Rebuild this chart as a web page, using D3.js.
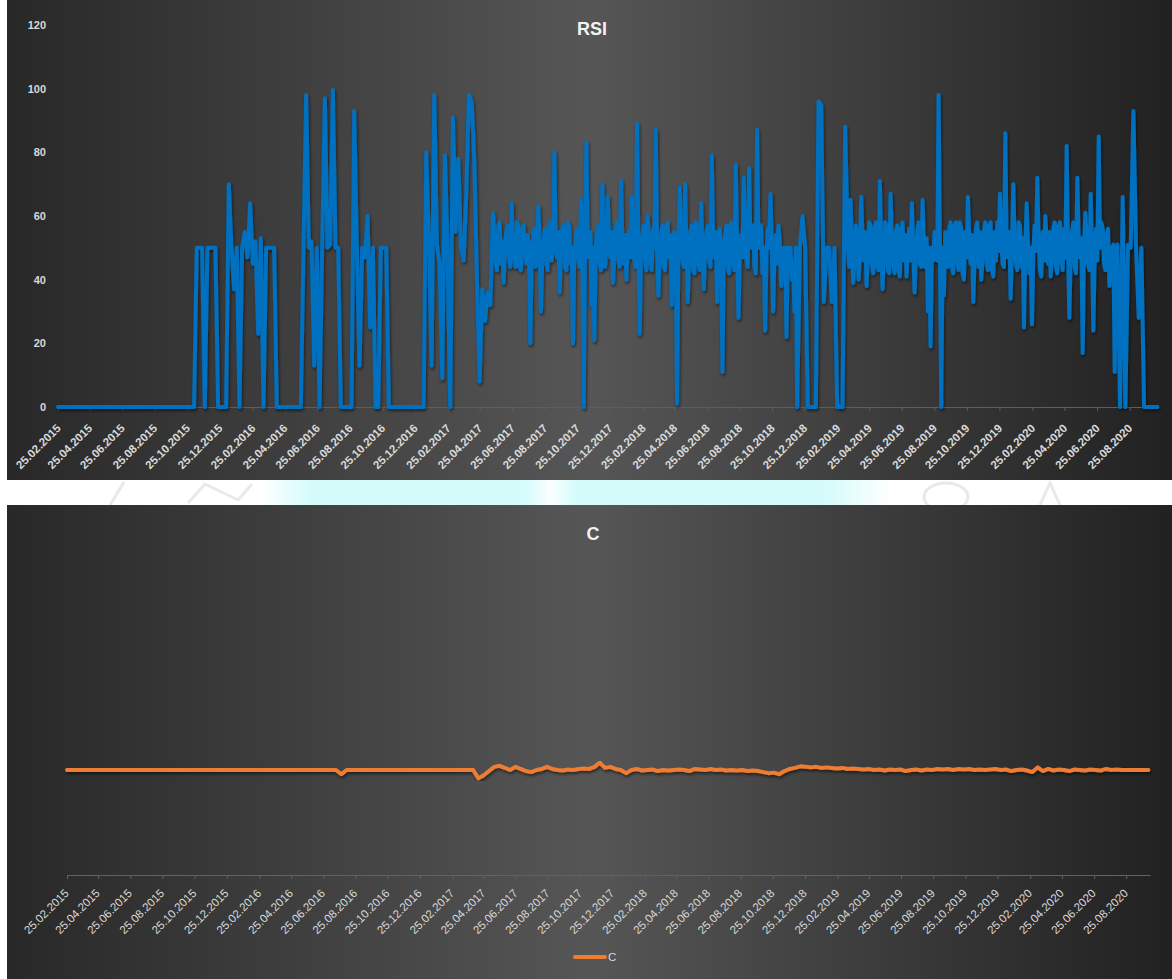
<html>
  <head>
    <meta charset="utf-8" />
    <script src="https://d3js.org/d3.v7.min.js"></script>
    <style>
      body {
        margin: 0;
        background: #ffffff;
      }
      svg {
        display: block;
        font-family: "Liberation Sans", Arial, sans-serif;
      }
    </style>
  </head>

  <body>
    <svg id="chart" width="1172" height="979"></svg>
    <script>
      // first date of both series, values every few days after it
      var startDate = new Date(2015, 1, 25);
      var rsiStepDays = 5;
      var cStepDays = 10;

      var tickLabels = [
        "25.02.2015", "25.04.2015", "25.06.2015", "25.08.2015", "25.10.2015", "25.12.2015",
        "25.02.2016", "25.04.2016", "25.06.2016", "25.08.2016", "25.10.2016", "25.12.2016",
        "25.02.2017", "25.04.2017", "25.06.2017", "25.08.2017", "25.10.2017", "25.12.2017",
        "25.02.2018", "25.04.2018", "25.06.2018", "25.08.2018", "25.10.2018", "25.12.2018",
        "25.02.2019", "25.04.2019", "25.06.2019", "25.08.2019", "25.10.2019", "25.12.2019",
        "25.02.2020", "25.04.2020", "25.06.2020", "25.08.2020"
      ];

      var rsiTicks = [0, 20, 40, 60, 80, 100, 120];

      var rsiValues = [
        0,0,0,0,0,0,0,0,0,0, 0,0,0,0,0,0,0,0,0,0, 0,0,0,0,0,0,0,0,0,0,
        0,0,0,0,0,0,0,0,0,0, 0,0,0,0,0,0,0,0,0,0, 0,0,
        50,50,50,0,50,50,50,50,0,0, 0,0,70,50,37,50,0,50,
        55,47,64,45,52,23,53,0,50,50,50,50,
        0,0,0,0,0,0,0,0,0,0,
        50,98,50,52,13,50,0,50,97,50, 51,99.6,50,50,0,0,0,0,0,93,
        50,13,50,47,60,25,50,0,0,50, 50,50,
        0,0,0,0,0,0,0,0,0,0,0,0,0,0,
        80,53,13,98,51,45,9,79,48,0, 91,55,78,50,46,67,98,96,78,40, 8,37,27,36,32,
        // 2017 - 2018 (index 163)
        61,46,57,45,39,55,47,64,46,58, 44,56,48,54,20,53,44,63,30,52,
        45,57,46,80,47,36,56,44,58,45, 20,52,46,65,0,83,47,32,21,55,
        45,70,44,66,47,39,56,46,71,45, 40,55,66,46,89,23,54,46,60,45,
        56,87,35,54,44,57,47,32,55,1, 69,46,70,33,55,43,58,45,64,37,
        55,46,79,47,33,56,11,54,44,57, 45,76,28,54,72,46,75,55,44,87,
        54,42,24,56,67,30,54,57,38,50, 22,50,40,30,0,
        // late 2018 - 2020 (index 278)
        50,60,50,0,0,0,0,96,95,33, 50,50,33,50,0,0,0,88,50,65,
        39,57,40,66,46,38,58,45,56,44, 71,37,58,43,67,45,55,43,56,46,
        41,56,64,36,55,45,65,44,30,19, 46,50,98,0,35,47,56,44,57,46,
        58,42,55,66,45,33,56,44,40,55, 45,57,43,55,58,67,45,86,47,34,
        70,45,58,44,25,64,42,26,57,72, 43,55,60,45,41,56,44,57,46,56,
        82,28,55,44,72,47,17,61,45,67, 24,56,85,58,45,54,38,50,11,51,
        0,66,0,51,50,93,50,28,50,0, 0,0,0,0,0
      ];

      // extra readings half a step after each value in the dense stretches
      var rsiMid2017Start = 163;
      var rsiMid2017 = [
        54,43,58,52,50,57,44,50,44,57, 43,57,45,50,48,56,49,50,48,56,
        43,58,50,52,55,50,57,43,57,50, 50,56,44,50,50,50,55,50,50,57,
        43,50,50,52,55,50,58,44,52,54, 50,47,53,44,50,50,57,43,52,43,
        50,50,48,57,43,58,54,48,50,50, 52,44,50,47,57,42,57,43,50,49,
        57,44,52,55,48,50,50,57,42,58, 43,50,47,47,52,44,50,57,42,50,
        57,50,48,50,50,48,45,52,46,50, 50,50,45,50
      ];
      var rsiMid2019Start = 296;
      var rsiMid2019 = [
        44,52,46,55,47,53,55,47,57,42, 58,43,50,48,57,42,53,42,57,41,
        58,54,50,46,50,48,58,44,52,53, 50,50,55,46,50,50,55,44,58,42,
        58,43,56,40,47,53,54,47,58,55, 47,58,43,58,41,46,49,53,44,50,
        55,50,52,43,57,53,50,52,50,48, 49,52,41,46,52,55,47,58,42,58,
        43,47,50,47,58,42,53,53,50,52, 43,50,48,46,50,56,43,56,44,51,
        50
      ];

      var cValues = [
        0,0,0,0,0,0,0,0,0,0, 0,0,0,0,0,0,0,0,0,0, 0,0,0,0,0,0,0,0,0,0,
        0,0,0,0,0,0,0,0,0,0, 0,0,0,0,0,0,0,0,0,0, 0,0,
        -0.4,
        0,0,0,0,0,0,0,0,0,0, 0,0,0,0,0,0,0,0,0,0, 0,0,0,0,0,
        -0.8,-0.5,-0.1,0.3,0.4,0.2,0,0.3,0.1,-0.1, -0.2,0,0.1,0.3,0.1,0,-0.05,0.05,0,0.1,
        0.15,0.1,
        0.3,0.7,0.2,0.3,0.1,0,-0.3,0,0.1,-0.05, 0,0.05,-0.1,0,-0.05,0,0.05,0,-0.1,0.1,
        0.05,0,0.1,0,0.05,-0.05,0,-0.05,0,-0.1, -0.05,-0.1,-0.2,-0.3,-0.25,-0.4,-0.1,0.1,0.2,0.35,
        0.3,0.25,0.3,0.2,0.25,0.2,0.15,0.2,0.1,0.15, 0.1,0.05,0.1,0,0.05,-0.05,0.05,0,0.05,-0.1,
        0,0.05,-0.05,0.05,0,0.1,0.05,0.1,0,0.1, 0.05,0.1,0,0.05,0,0.05,0.1,0,0.05,-0.1,
        0,0.05,-0.05,-0.2,0.25,-0.1,0.1,-0.05,0.05,0, -0.1,0.05,0,-0.05,0.05,0,-0.05,0.1,0,0.05,
        0,0,0,0,0,0
      ];

      var parseDay = d3.timeParse("%d.%m.%Y");
      var tickDates = tickLabels.map((d) => parseDay(d));

      function midValue(i) {
        var k = i - rsiMid2017Start;
        if (k >= 0 && k < rsiMid2017.length) return rsiMid2017[k];
        k = i - rsiMid2019Start;
        if (k >= 0 && k < rsiMid2019.length) return rsiMid2019[k];
        return null;
      }

      var rsi = [];
      rsiValues.forEach(function (v, i) {
        rsi.push({ date: d3.timeDay.offset(startDate, i * rsiStepDays), value: v });
        var m = midValue(i);
        if (m !== null) {
          rsi.push({
            date: d3.timeHour.offset(startDate, (i * rsiStepDays + rsiStepDays / 2) * 24),
            value: m,
          });
        }
      });

      var cData = cValues.map((v, i) => ({
        date: d3.timeDay.offset(startDate, i * cStepDays),
        value: v,
      }));

      var svg = d3.select("#chart");
      var defs = svg.append("defs");

      var grad = defs
        .append("linearGradient")
        .attr("id", "panelGrad")
        .attr("x1", "0")
        .attr("x2", "1")
        .attr("y1", "0")
        .attr("y2", "0");
      grad.append("stop").attr("offset", "0%").attr("stop-color", "#282828");
      grad.append("stop").attr("offset", "50%").attr("stop-color", "#565656");
      grad.append("stop").attr("offset", "100%").attr("stop-color", "#212121");

      var cyan = defs
        .append("linearGradient")
        .attr("id", "cyanGrad")
        .attr("x1", "0")
        .attr("x2", "1");
      [
        [0, 0],
        [0.08, 1],
        [0.42, 1],
        [0.46, 0.1],
        [0.5, 1],
        [0.9, 1],
        [1, 0],
      ].forEach((s) =>
        cyan
          .append("stop")
          .attr("offset", s[0])
          .attr("stop-color", "#d6fbfb")
          .attr("stop-opacity", s[1])
      );

      var shadow = defs.append("filter").attr("id", "shadow").attr("x", "-5%").attr("y", "-5%").attr("width", "110%").attr("height", "120%");
      shadow
        .append("feDropShadow")
        .attr("dx", 1)
        .attr("dy", 2)
        .attr("stdDeviation", 1.5)
        .attr("flood-color", "#000")
        .attr("flood-opacity", 0.55);

      // strip between the two charts (faint watermark)
      svg.append("rect").attr("x", 260).attr("y", 480).attr("width", 630).attr("height", 25).attr("fill", "url(#cyanGrad)");
      var wm = svg.append("g").attr("fill", "none").attr("stroke", "#d4d4d4").attr("stroke-width", 3).attr("opacity", 0.5);
      wm.append("path").attr("d", "M110,505 L124,482");
      wm.append("path").attr("d", "M188,503 L205,484 L238,500 L252,484");
      wm.append("ellipse").attr("cx", 946).attr("cy", 497).attr("rx", 22).attr("ry", 14);
      wm.append("path").attr("d", "M1040,505 L1050,483 L1060,505");

      // panels
      svg.append("rect").attr("x", 7).attr("y", 0).attr("width", 1165).attr("height", 480).attr("fill", "url(#panelGrad)");
      svg.append("rect").attr("x", 7).attr("y", 505).attr("width", 1165).attr("height", 474).attr("fill", "url(#panelGrad)");

      var fmt = d3.timeFormat("%d.%m.%Y");

      /* ---------- RSI ---------- */
      var x = d3
        .scaleTime()
        .domain([startDate, d3.timeDay.offset(startDate, 2060)])
        .range([58, 1157.4]);
      var y = d3.scaleLinear().domain([0, 120]).range([407, 25]);

      svg
        .append("text")
        .attr("x", 592)
        .attr("y", 35)
        .attr("text-anchor", "middle")
        .attr("font-size", 18)
        .attr("font-weight", "bold")
        .attr("fill", "#f2f2f2")
        .text("RSI");

      svg
        .append("g")
        .selectAll("text")
        .data(rsiTicks)
        .join("text")
        .attr("x", 46)
        .attr("y", (d) => y(d))
        .attr("dy", "0.35em")
        .attr("text-anchor", "end")
        .attr("font-size", 11)
        .attr("font-weight", "bold")
        .attr("fill", "#d9d9d9")
        .text((d) => d);

      var xAxis = svg
        .append("g")
        .attr("transform", "translate(0,407)")
        .call(d3.axisBottom(x).tickValues(tickDates).tickFormat(fmt).tickSize(4).tickSizeOuter(0));
      xAxis.select(".domain").attr("stroke", "#5e5e5e");
      xAxis.selectAll(".tick line").attr("stroke", "#5e5e5e");
      xAxis
        .selectAll(".tick text")
        .attr("x", 0)
        .attr("y", 0)
        .attr("dy", 0)
        .attr("text-anchor", "end")
        .attr("transform", "translate(3,22) rotate(-45)")
        .attr("font-family", "Liberation Sans, Arial, sans-serif")
        .attr("font-size", 11.5)
        .attr("font-weight", "bold")
        .attr("fill", "#d9d9d9");

      var line = d3
        .line()
        .x((d) => x(d.date))
        .y((d) => y(d.value));

      svg
        .append("path")
        .datum(rsi)
        .attr("fill", "none")
        .attr("stroke", "#0070c0")
        .attr("stroke-width", 4)
        .attr("stroke-linejoin", "round")
        .attr("stroke-linecap", "round")
        .attr("filter", "url(#shadow)")
        .attr("d", line);

      /* ---------- C ---------- */
      var x2 = d3
        .scaleTime()
        .domain([startDate, d3.timeDay.offset(startDate, 2053)])
        .range([67, 1150]);
      var y2 = d3.scaleLinear().domain([-10, 20]).range([875, 560]);

      svg
        .append("text")
        .attr("x", 593)
        .attr("y", 540)
        .attr("text-anchor", "middle")
        .attr("font-size", 18)
        .attr("font-weight", "bold")
        .attr("fill", "#f2f2f2")
        .text("C");

      var xAxis2 = svg
        .append("g")
        .attr("transform", "translate(0,875)")
        .call(d3.axisBottom(x2).tickValues(tickDates).tickFormat(fmt).tickSize(4).tickSizeOuter(0));
      xAxis2.select(".domain").attr("stroke", "#626262");
      xAxis2.selectAll(".tick line").attr("stroke", "#626262");
      xAxis2
        .selectAll(".tick text")
        .attr("x", 0)
        .attr("y", 0)
        .attr("dy", 0)
        .attr("text-anchor", "end")
        .attr("transform", "translate(2,19) rotate(-45)")
        .attr("font-family", "Liberation Sans, Arial, sans-serif")
        .attr("font-size", 11.5)
        .attr("fill", "#d9d9d9");

      var line2 = d3
        .line()
        .x((d) => x2(d.date))
        .y((d) => y2(d.value));

      svg
        .append("path")
        .datum(cData)
        .attr("fill", "none")
        .attr("stroke", "#ed7d31")
        .attr("stroke-width", 4)
        .attr("stroke-linejoin", "round")
        .attr("stroke-linecap", "round")
        .attr("filter", "url(#shadow)")
        .attr("d", line2);

      // legend
      var legend = svg.append("g").attr("transform", "translate(575,957)");
      legend
        .append("line")
        .attr("x1", 0)
        .attr("x2", 30)
        .attr("stroke", "#ed7d31")
        .attr("stroke-width", 4)
        .attr("stroke-linecap", "round");
      legend
        .append("text")
        .attr("x", 33)
        .attr("dy", "0.35em")
        .attr("font-size", 11.5)
        .attr("fill", "#d9d9d9")
        .text("C");
    </script>
  </body>
</html>
